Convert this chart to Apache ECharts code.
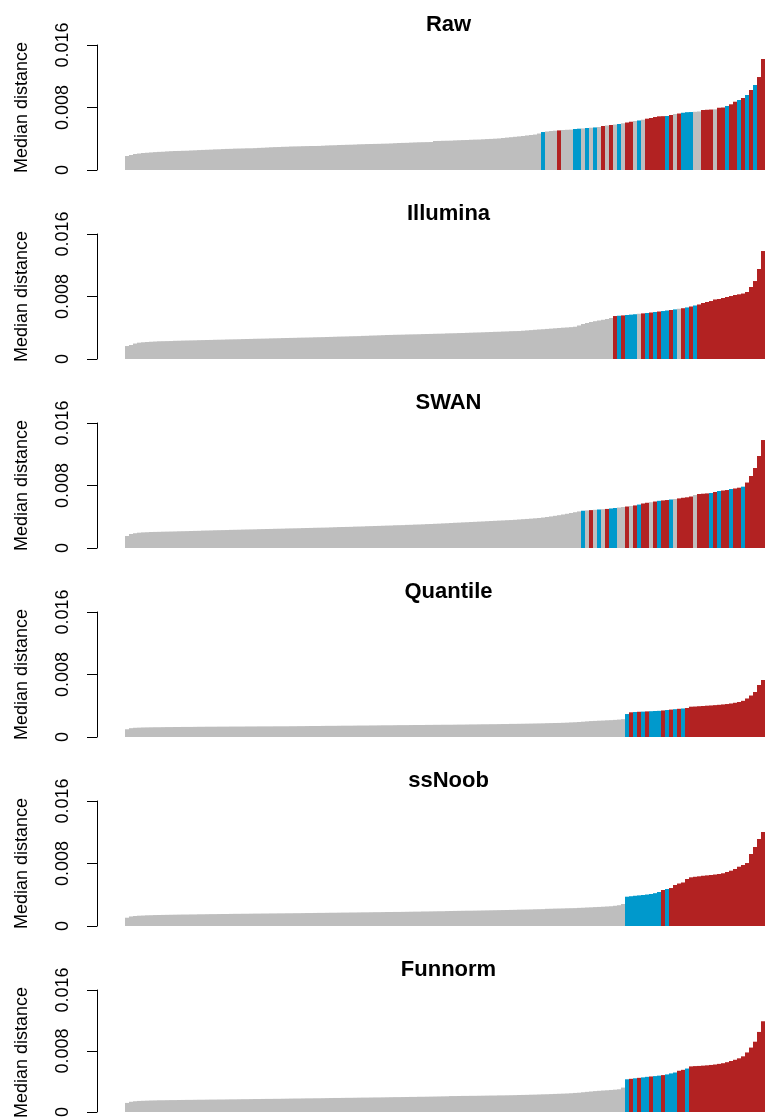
<!DOCTYPE html>
<html><head><meta charset="utf-8">
<script src="https://cdn.jsdelivr.net/npm/echarts@6/dist/echarts.min.js"></script>
<style>html,body{margin:0;padding:0;background:#fff}#c{width:765px;height:1120px}</style>
</head><body><div id="c"></div>
<script>
const panelTitles = ["Raw", "Illumina", "SWAN", "Quantile", "ssNoob", "Funnorm"];
const yAxisTitle = "Median distance";
const yTickValues = [0, 0.008, 0.016];
const yTickLabels = ["0", "0.008", "0.016"];

const rawValues = [0.00179,0.00192,0.00205,0.00211,0.00218,0.00221,0.00225,0.00229,0.00232,0.00234,
0.00238,0.00241,0.00243,0.00244,0.00246,0.00247,0.00250,0.00252,0.00255,0.00257,
0.00259,0.00261,0.00264,0.00265,0.00268,0.00270,0.00271,0.00274,0.00275,0.00276,
0.00278,0.00278,0.00280,0.00283,0.00285,0.00288,0.00291,0.00293,0.00294,0.00297,
0.00298,0.00301,0.00302,0.00303,0.00305,0.00306,0.00307,0.00307,0.00308,0.00311,
0.00314,0.00316,0.00317,0.00320,0.00321,0.00323,0.00324,0.00326,0.00329,0.00330,
0.00332,0.00333,0.00334,0.00335,0.00337,0.00338,0.00340,0.00343,0.00346,0.00347,
0.00348,0.00351,0.00353,0.00355,0.00356,0.00357,0.00358,0.00371,0.00372,0.00374,
0.00375,0.00376,0.00379,0.00381,0.00383,0.00384,0.00387,0.00389,0.00390,0.00393,
0.00396,0.00398,0.00401,0.00404,0.00410,0.00415,0.00420,0.00425,0.00430,0.00435,
0.00442,0.00448,0.00454,0.00467,0.00486,0.00493,0.00499,0.00503,0.00507,0.00512,
0.00515,0.00517,0.00525,0.00529,0.00532,0.00538,0.00541,0.00545,0.00550,0.00563,
0.00570,0.00576,0.00582,0.00589,0.00598,0.00608,0.00618,0.00627,0.00634,0.00644,
0.00657,0.00666,0.00678,0.00687,0.00689,0.00691,0.00704,0.00717,0.00723,0.00733,
0.00740,0.00742,0.00745,0.00749,0.00768,0.00771,0.00774,0.00777,0.00797,0.00800,
0.00819,0.00841,0.00874,0.00896,0.00922,0.00960,0.01024,0.01088,0.01190,0.01421];
const rawGroups = [["G",104],["B",1],["G",3],["R",1],["G",3],["B",2],["G",1],["B",1],["G",1],["B",1],["G",1],["R",1],["G",1],["R",1],["G",1],["B",1],["G",1],["R",2],["G",1],["B",1],["G",1],["R",5],["B",1],["R",1],["G",1],["R",1],["B",3],["G",2],["R",3],["G",1],["R",2],["B",1],["R",2],["B",1],["R",1],["B",1],["R",1],["B",1],["R",2]];

const illuminaValues = [0.00166,0.00179,0.00198,0.00209,0.00214,0.00218,0.00221,0.00224,0.00227,0.00228,
0.00229,0.00230,0.00233,0.00234,0.00236,0.00237,0.00238,0.00239,0.00241,0.00242,
0.00243,0.00244,0.00246,0.00247,0.00248,0.00250,0.00251,0.00252,0.00253,0.00255,
0.00256,0.00257,0.00259,0.00260,0.00261,0.00262,0.00264,0.00265,0.00266,0.00268,
0.00269,0.00270,0.00271,0.00273,0.00274,0.00275,0.00276,0.00278,0.00279,0.00280,
0.00282,0.00283,0.00285,0.00287,0.00288,0.00289,0.00291,0.00292,0.00293,0.00296,
0.00297,0.00300,0.00301,0.00303,0.00305,0.00307,0.00308,0.00310,0.00311,0.00312,
0.00314,0.00315,0.00316,0.00317,0.00319,0.00320,0.00321,0.00323,0.00324,0.00325,
0.00328,0.00329,0.00330,0.00332,0.00333,0.00335,0.00337,0.00339,0.00340,0.00342,
0.00344,0.00346,0.00348,0.00349,0.00352,0.00353,0.00356,0.00357,0.00358,0.00362,
0.00366,0.00370,0.00374,0.00378,0.00381,0.00385,0.00389,0.00393,0.00397,0.00401,
0.00404,0.00408,0.00413,0.00429,0.00448,0.00461,0.00474,0.00484,0.00493,0.00502,
0.00512,0.00525,0.00550,0.00554,0.00558,0.00563,0.00568,0.00573,0.00579,0.00584,
0.00589,0.00595,0.00602,0.00608,0.00614,0.00621,0.00627,0.00635,0.00643,0.00650,
0.00660,0.00672,0.00685,0.00698,0.00717,0.00730,0.00742,0.00762,0.00768,0.00781,
0.00794,0.00806,0.00819,0.00828,0.00838,0.00858,0.00922,0.00998,0.01152,0.01382];
const illuminaGroups = [["G",122],["R",1],["B",1],["R",1],["B",3],["G",1],["R",1],["B",1],["R",1],["B",1],["R",1],["B",2],["R",1],["B",1],["G",1],["R",1],["B",1],["R",1],["B",1],["R",17]];

const swanValues = [0.00154,0.00179,0.00189,0.00196,0.00200,0.00202,0.00205,0.00206,0.00207,0.00209,
0.00210,0.00211,0.00212,0.00214,0.00215,0.00216,0.00218,0.00219,0.00220,0.00223,
0.00224,0.00225,0.00227,0.00228,0.00229,0.00230,0.00232,0.00233,0.00234,0.00236,
0.00237,0.00238,0.00239,0.00241,0.00242,0.00243,0.00244,0.00246,0.00247,0.00248,
0.00250,0.00251,0.00252,0.00253,0.00255,0.00256,0.00257,0.00259,0.00260,0.00261,
0.00262,0.00264,0.00266,0.00268,0.00269,0.00270,0.00271,0.00274,0.00275,0.00276,
0.00279,0.00280,0.00282,0.00283,0.00285,0.00287,0.00288,0.00291,0.00292,0.00293,
0.00296,0.00297,0.00300,0.00301,0.00303,0.00306,0.00307,0.00310,0.00312,0.00315,
0.00317,0.00320,0.00323,0.00325,0.00328,0.00330,0.00333,0.00335,0.00338,0.00340,
0.00343,0.00346,0.00348,0.00351,0.00353,0.00356,0.00358,0.00361,0.00365,0.00369,
0.00372,0.00376,0.00380,0.00384,0.00390,0.00397,0.00404,0.00412,0.00420,0.00429,
0.00438,0.00448,0.00458,0.00468,0.00477,0.00481,0.00485,0.00489,0.00493,0.00497,
0.00500,0.00506,0.00512,0.00518,0.00525,0.00531,0.00538,0.00545,0.00556,0.00570,
0.00579,0.00586,0.00595,0.00604,0.00609,0.00614,0.00621,0.00627,0.00635,0.00643,
0.00649,0.00659,0.00678,0.00691,0.00695,0.00699,0.00704,0.00717,0.00730,0.00736,
0.00742,0.00755,0.00762,0.00772,0.00785,0.00838,0.00922,0.01024,0.01178,0.01382];
const swanGroups = [["G",114],["B",1],["G",1],["R",1],["G",1],["B",1],["G",1],["R",1],["B",2],["G",2],["R",1],["G",1],["R",1],["B",1],["R",2],["G",1],["R",1],["B",1],["R",2],["B",1],["G",1],["R",4],["G",1],["R",3],["B",1],["R",1],["B",1],["R",2],["B",1],["R",2],["B",1],["R",5]];

const quantileValues = [0.00099,0.00113,0.00118,0.00120,0.00122,0.00123,0.00124,0.00125,0.00125,0.00126,
0.00127,0.00127,0.00128,0.00128,0.00129,0.00129,0.00129,0.00130,0.00131,0.00131,
0.00132,0.00132,0.00132,0.00133,0.00133,0.00133,0.00134,0.00134,0.00134,0.00134,
0.00135,0.00135,0.00135,0.00136,0.00136,0.00136,0.00136,0.00137,0.00137,0.00137,
0.00137,0.00138,0.00138,0.00139,0.00139,0.00140,0.00141,0.00141,0.00141,0.00142,
0.00143,0.00143,0.00143,0.00144,0.00145,0.00145,0.00145,0.00146,0.00147,0.00147,
0.00147,0.00148,0.00148,0.00149,0.00150,0.00150,0.00150,0.00151,0.00152,0.00152,
0.00152,0.00153,0.00154,0.00154,0.00154,0.00155,0.00155,0.00156,0.00156,0.00157,
0.00157,0.00157,0.00158,0.00159,0.00159,0.00160,0.00161,0.00161,0.00162,0.00163,
0.00163,0.00164,0.00164,0.00165,0.00166,0.00166,0.00168,0.00168,0.00169,0.00170,
0.00171,0.00172,0.00173,0.00174,0.00175,0.00177,0.00178,0.00179,0.00180,0.00182,
0.00184,0.00187,0.00189,0.00192,0.00196,0.00200,0.00204,0.00206,0.00209,0.00211,
0.00214,0.00216,0.00219,0.00223,0.00228,0.00294,0.00316,0.00320,0.00323,0.00325,
0.00328,0.00330,0.00333,0.00335,0.00340,0.00346,0.00351,0.00356,0.00361,0.00365,
0.00371,0.00388,0.00390,0.00394,0.00397,0.00401,0.00404,0.00408,0.00412,0.00417,
0.00422,0.00429,0.00438,0.00448,0.00463,0.00493,0.00531,0.00576,0.00666,0.00730];
const quantileGroups = [["G",125],["B",1],["R",1],["B",1],["R",1],["B",1],["R",1],["B",3],["R",1],["B",1],["R",1],["B",1],["R",1],["B",1],["R",20]];

const ssnoobValues = [0.00106,0.00122,0.00128,0.00132,0.00134,0.00137,0.00138,0.00140,0.00141,0.00142,
0.00143,0.00144,0.00145,0.00146,0.00147,0.00147,0.00148,0.00148,0.00150,0.00150,
0.00151,0.00152,0.00152,0.00153,0.00154,0.00154,0.00155,0.00156,0.00156,0.00157,
0.00157,0.00158,0.00159,0.00159,0.00160,0.00160,0.00161,0.00161,0.00162,0.00162,
0.00163,0.00163,0.00164,0.00164,0.00165,0.00166,0.00166,0.00167,0.00168,0.00168,
0.00169,0.00170,0.00170,0.00171,0.00172,0.00172,0.00173,0.00173,0.00174,0.00175,
0.00175,0.00176,0.00177,0.00177,0.00178,0.00179,0.00179,0.00180,0.00180,0.00181,
0.00182,0.00183,0.00184,0.00184,0.00186,0.00186,0.00187,0.00188,0.00189,0.00189,
0.00191,0.00192,0.00193,0.00194,0.00195,0.00196,0.00196,0.00197,0.00198,0.00199,
0.00200,0.00201,0.00202,0.00203,0.00204,0.00205,0.00206,0.00207,0.00209,0.00210,
0.00211,0.00212,0.00214,0.00215,0.00216,0.00220,0.00221,0.00223,0.00224,0.00225,
0.00227,0.00228,0.00229,0.00232,0.00234,0.00237,0.00239,0.00242,0.00244,0.00247,
0.00250,0.00253,0.00259,0.00266,0.00282,0.00375,0.00381,0.00387,0.00392,0.00397,
0.00403,0.00410,0.00420,0.00435,0.00461,0.00474,0.00486,0.00525,0.00544,0.00557,
0.00602,0.00623,0.00630,0.00636,0.00643,0.00648,0.00653,0.00659,0.00666,0.00675,
0.00691,0.00708,0.00730,0.00759,0.00781,0.00806,0.00922,0.01011,0.01114,0.01203];
const ssnoobGroups = [["G",125],["B",9],["R",1],["B",1],["R",24]];

const funnormValues = [0.00119,0.00134,0.00141,0.00145,0.00147,0.00149,0.00151,0.00152,0.00154,0.00154,
0.00155,0.00156,0.00156,0.00157,0.00158,0.00159,0.00159,0.00160,0.00161,0.00161,
0.00162,0.00163,0.00163,0.00164,0.00164,0.00165,0.00166,0.00166,0.00167,0.00168,
0.00168,0.00169,0.00170,0.00170,0.00171,0.00172,0.00172,0.00173,0.00173,0.00174,
0.00175,0.00176,0.00177,0.00177,0.00178,0.00179,0.00179,0.00180,0.00180,0.00181,
0.00182,0.00183,0.00184,0.00184,0.00185,0.00186,0.00186,0.00187,0.00188,0.00189,
0.00189,0.00190,0.00191,0.00191,0.00192,0.00193,0.00194,0.00195,0.00195,0.00196,
0.00197,0.00198,0.00198,0.00200,0.00200,0.00201,0.00202,0.00203,0.00204,0.00205,
0.00206,0.00209,0.00209,0.00210,0.00211,0.00211,0.00212,0.00212,0.00213,0.00214,
0.00215,0.00216,0.00216,0.00218,0.00218,0.00219,0.00220,0.00221,0.00223,0.00224,
0.00225,0.00227,0.00228,0.00230,0.00232,0.00233,0.00235,0.00237,0.00239,0.00241,
0.00243,0.00246,0.00250,0.00253,0.00259,0.00264,0.00269,0.00274,0.00278,0.00282,
0.00285,0.00289,0.00293,0.00298,0.00320,0.00429,0.00435,0.00442,0.00448,0.00454,
0.00461,0.00466,0.00471,0.00477,0.00484,0.00493,0.00506,0.00518,0.00541,0.00553,
0.00570,0.00598,0.00602,0.00604,0.00608,0.00612,0.00617,0.00623,0.00631,0.00640,
0.00653,0.00669,0.00685,0.00704,0.00730,0.00781,0.00845,0.00922,0.01050,0.01190];
const funnormGroups = [["G",125],["B",1],["R",1],["B",1],["R",1],["B",2],["R",1],["B",2],["R",1],["B",3],["R",2],["B",1],["R",19]];

const groupColor = { G: "#BEBEBE", B: "#0099CC", R: "#B22222" };

const panelValues = [rawValues, illuminaValues, swanValues, quantileValues, ssnoobValues, funnormValues];
const panelGroups = [rawGroups, illuminaGroups, swanGroups, quantileGroups, ssnoobGroups, funnormGroups];

function expandGroups(groups) {
  const out = [];
  groups.forEach(function (g) { for (let i = 0; i < g[1]; i++) out.push(g[0]); });
  return out;
}

const FONT = '"Liberation Sans", Arial, Helvetica, sans-serif';
const PANEL_STEP = 189, PLOT_TOP = 45, PLOT_H = 125, PLOT_LEFT = 125, PLOT_W = 640;

const option = { animation: false, backgroundColor: '#fff', grid: [], xAxis: [], yAxis: [], series: [], graphic: [] };

panelTitles.forEach(function (title, k) {
  const vals = panelValues[k];
  const cols = expandGroups(panelGroups[k]);
  const top = PLOT_TOP + k * PANEL_STEP;
  option.grid.push({ left: PLOT_LEFT, top: top, width: PLOT_W, height: PLOT_H, containLabel: false });
  option.xAxis.push({ type: 'category', gridIndex: k, data: vals.map(function (_, i) { return i + 1; }), show: false, boundaryGap: true });
  option.yAxis.push({
    type: 'value', gridIndex: k, min: yTickValues[0], max: yTickValues[yTickValues.length - 1], interval: yTickValues[1] - yTickValues[0],
    offset: 28,
    axisLine: { show: true, onZero: false, lineStyle: { color: '#000', width: 1 } },
    axisTick: { show: true, length: 10, lineStyle: { color: '#000', width: 1 } },
    axisLabel: { rotate: 90, margin: 25, fontSize: 18, color: '#000', fontFamily: FONT,
      formatter: function (v) { const j = Math.round(v / yTickValues[1]); return yTickLabels[j] !== undefined ? yTickLabels[j] : String(v); } },
    splitLine: { show: false }
  });
  option.series.push({
    type: 'bar', xAxisIndex: k, yAxisIndex: k, barCategoryGap: '0%', barGap: '0%', silent: true,
    data: vals.map(function (v, i) { return { value: v, itemStyle: { color: groupColor[cols[i]] } }; })
  });
  option.graphic.push({
    type: 'text', x: 448.5, y: 25 + k * PANEL_STEP, silent: true,
    style: { text: title, fill: '#000', font: 'bold 22px ' + FONT, fontSize: 22, fontWeight: 'bold', fontFamily: FONT,
      align: 'center', verticalAlign: 'middle', textAlign: 'center', textVerticalAlign: 'middle' }
  });
  option.graphic.push({
    type: 'text', x: 22, y: 107.5 + k * PANEL_STEP, rotation: Math.PI / 2, silent: true,
    style: { text: yAxisTitle, fill: '#000', font: '18px ' + FONT, fontSize: 18, fontFamily: FONT,
      align: 'center', verticalAlign: 'middle', textAlign: 'center', textVerticalAlign: 'middle' }
  });
});

const chart = echarts.init(document.getElementById('c'), null, { renderer: 'canvas' });
chart.setOption(option);
</script>
</body></html>
